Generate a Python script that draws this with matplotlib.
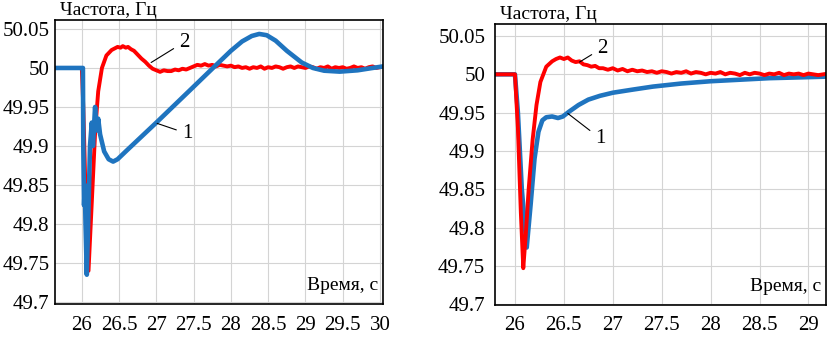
import numpy as np
import matplotlib
matplotlib.use("Agg")
import matplotlib.pyplot as plt

plt.rcParams['font.family'] = ['Liberation Serif', 'DejaVu Serif']

# ---- left panel data ----
left_blue_t = [25.64, 26.0, 26.015, 26.02, 26.03, 26.04, 26.05, 26.067, 26.09, 26.11,
               26.134, 26.15, 26.178, 26.20, 26.22, 26.245, 26.30, 26.36, 26.42, 26.48,
               26.6, 26.8, 27.0, 27.25, 27.5, 27.76, 28.0, 28.15, 28.28, 28.38,
               28.48, 28.6, 28.75, 28.95, 29.1, 29.25, 29.46, 29.7, 29.9, 30.04]
left_blue_v = [50.0, 50.0, 50.0, 49.90, 49.824, 49.85, 49.80, 49.735, 49.82, 49.90,
               49.93, 49.90, 49.95, 49.92, 49.935, 49.915, 49.893, 49.883, 49.880, 49.883,
               49.894, 49.912, 49.930, 49.953, 49.976, 50.0, 50.022, 50.034, 50.041, 50.0436,
               50.042, 50.035, 50.022, 50.007, 50.0, 49.9965, 49.9953, 49.997, 50.0, 50.002]

left_red_t = [25.64, 26.0, 26.02, 26.05, 26.09, 26.12, 26.15, 26.18, 26.22, 26.27,
              26.33, 26.4, 26.44, 26.48, 26.52, 26.55, 26.59, 26.62, 26.66, 26.7,
              26.75, 26.8, 26.85, 26.9, 26.95, 27.0, 27.05, 27.1, 27.15]
left_red_v = [50.0, 50.0, 49.95, 49.84, 49.74, 49.80, 49.86, 49.92, 49.97, 50.0,
              50.016, 50.023, 50.025, 50.027, 50.026, 50.028, 50.026, 50.027, 50.024, 50.022,
              50.017, 50.012, 50.008, 50.003, 49.999, 49.997, 49.995, 49.997, 49.996]
left_red_tail_t = np.linspace(27.2, 30.0, 57)
left_red_tail_v = [49.996, 49.998, 49.997, 49.999, 49.998, 50.000,
                   50.002, 50.004, 50.003, 50.005, 50.003, 50.004, 50.002, 50.004, 50.003, 50.002,
                   50.003, 50.001, 50.002, 50.000, 50.001, 49.999, 50.001, 50.000, 50.002, 49.999,
                   50.001, 50.000, 50.002, 50.001, 49.999, 50.001, 50.002, 50.000, 50.002, 50.001,
                   50.000, 50.002, 50.001, 49.999, 50.001, 50.000, 50.002, 49.999, 50.001, 50.000,
                   50.001, 49.999, 50.000, 50.002, 50.000, 50.001, 49.999, 50.001, 50.002, 50.000,
                   50.001]

# ---- right panel data ----
right_blue_t = [25.795, 26.0, 26.03, 26.07, 26.12, 26.16, 26.20, 26.24, 26.28, 26.32,
                26.38, 26.44, 26.49, 26.55, 26.65, 26.75, 26.87, 27.0, 27.2, 27.41,
                27.7, 28.0, 28.3, 28.6, 28.9, 29.18]
right_blue_v = [50.0, 50.0, 49.95, 49.85, 49.774, 49.83, 49.89, 49.925, 49.94, 49.944,
                49.945, 49.943, 49.945, 49.951, 49.960, 49.967, 49.972, 49.976, 49.980, 49.984,
                49.988, 49.991, 49.993, 49.995, 49.996, 49.997]

right_red_t = [25.795, 26.0, 26.03, 26.06, 26.085, 26.11, 26.14, 26.18, 26.22, 26.26,
               26.32, 26.38, 26.42, 26.46, 26.5, 26.54, 26.58, 26.62, 26.66, 26.7,
               26.74, 26.78, 26.82, 26.86]
right_red_v = [50.0, 50.0, 49.93, 49.82, 49.747, 49.79, 49.85, 49.914, 49.96, 49.99,
               50.01, 50.017, 50.020, 50.022, 50.020, 50.022, 50.018, 50.016, 50.017, 50.013,
               50.012, 50.010, 50.011, 50.008]
right_red_tail_t = np.linspace(26.9, 29.2, 47)
right_red_tail_v = [50.008, 50.006, 50.008, 50.005, 50.007, 50.004, 50.006, 50.004, 50.005, 50.003,
                    50.004, 50.002, 50.004, 50.003, 50.001, 50.003, 50.002, 50.004, 50.001, 50.003,
                    50.002, 50.000, 50.002, 50.001, 50.003, 50.000, 50.002, 50.001, 49.999, 50.002,
                    50.000, 50.002, 50.001, 49.999, 50.001, 50.000, 50.002, 49.999, 50.001, 50.000,
                    50.001, 49.999, 50.001, 50.000, 49.999, 50.000, 50.001]

y_ticks = [49.7, 49.75, 49.8, 49.85, 49.9, 49.95, 50, 50.05]
left_x_ticks = [26, 26.5, 27, 27.5, 28, 28.5, 29, 29.5, 30]
right_x_ticks = [26, 26.5, 27, 27.5, 28, 28.5, 29]

BLUE = '#1f74bf'
RED = '#ff0000'
FS = 15

fig = plt.figure(figsize=(8.29, 3.37), dpi=100)
ax1 = fig.add_axes([0.0663, 0.098, 0.3957, 0.8427])
ax2 = fig.add_axes([0.597, 0.095, 0.3994, 0.8338])


def style_axes(ax, xlim, ylim, xticks, xpad, ypad):
    ax.set_xlim(*xlim)
    ax.set_ylim(*ylim)
    ax.set_xticks(xticks)
    ax.set_xticklabels(['%g' % v for v in xticks])
    ax.set_yticks(y_ticks)
    ax.set_yticklabels(['%g' % v for v in y_ticks])
    ax.tick_params(axis='both', length=0, labelsize=FS)
    ax.tick_params(axis='x', pad=xpad)
    ax.tick_params(axis='y', pad=ypad)
    ax.grid(True, color='#d4d4d4', lw=0.8)
    ax.set_axisbelow(True)
    for s in ax.spines.values():
        s.set_linewidth(1.2)
        s.set_color('black')
    ax.text(0.015, 1.005, 'Частота, Гц', transform=ax.transAxes, fontsize=14,
            ha='left', va='bottom')
    ax.text(0.985, 0.035, 'Время, с', transform=ax.transAxes, fontsize=14,
            ha='right', va='bottom')


# left panel: red under blue
ax1.plot(list(left_red_t) + list(left_red_tail_t), left_red_v + left_red_tail_v,
         color=RED, lw=2.8, solid_joinstyle='round')
ax1.plot(left_blue_t, left_blue_v, color=BLUE, lw=3.3, solid_joinstyle='round')
style_axes(ax1, (25.64, 30.04), (49.6975, 50.0615), left_x_ticks, 9, 4)
ax1.annotate('2', xy=(26.93, 50.007), xytext=(27.37, 50.033), fontsize=FS,
             ha='center', va='center',
             arrowprops=dict(arrowstyle='-', color='black', lw=0.8, shrinkA=2, shrinkB=0))
ax1.annotate('1', xy=(27.01, 49.929), xytext=(27.41, 49.916), fontsize=FS,
             ha='center', va='center',
             arrowprops=dict(arrowstyle='-', color='black', lw=0.8, shrinkA=2, shrinkB=0))

# right panel: blue under red
ax2.plot(right_blue_t, right_blue_v, color=BLUE, lw=3.3, solid_joinstyle='round')
ax2.plot(list(right_red_t) + list(right_red_tail_t), right_red_v + right_red_tail_v,
         color=RED, lw=2.8, solid_joinstyle='round')
style_axes(ax2, (25.795, 29.18), (49.699, 50.0657), right_x_ticks, 8, 7)
ax2.annotate('2', xy=(26.66, 50.016), xytext=(26.89, 50.034), fontsize=FS,
             ha='center', va='center',
             arrowprops=dict(arrowstyle='-', color='black', lw=0.8, shrinkA=2, shrinkB=0))
ax2.annotate('1', xy=(26.54, 49.949), xytext=(26.87, 49.9165), fontsize=FS,
             ha='center', va='center',
             arrowprops=dict(arrowstyle='-', color='black', lw=0.8, shrinkA=2, shrinkB=0))

fig.savefig('out.png', dpi=100)
